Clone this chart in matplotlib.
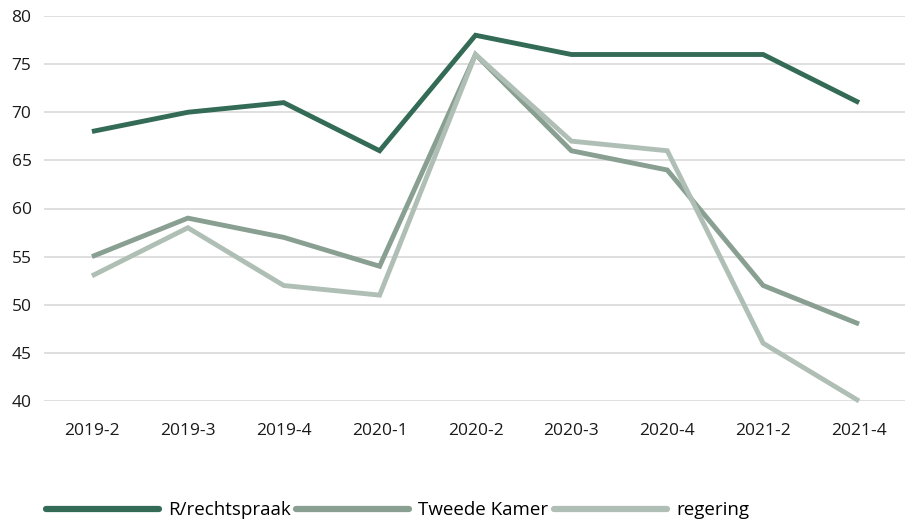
import matplotlib
matplotlib.use("Agg")
import matplotlib.pyplot as plt

categories = ["2019-2", "2019-3", "2019-4", "2020-1", "2020-2", "2020-3", "2020-4", "2021-2", "2021-4"]
rechtspraak = [68, 70, 71, 66, 78, 76, 76, 76, 71]
tweede_kamer = [55, 59, 57, 54, 76, 66, 64, 52, 48]
regering = [53, 58, 52, 51, 76, 67, 66, 46, 40]
series_names = ["R/rechtspraak", "Tweede Kamer", "regering"]
colors = ["#336b57", "#889f92", "#b0bfb5"]

plt.rcParams['font.family'] = ['Open Sans', 'DejaVu Sans']

fig = plt.figure(figsize=(9.05, 5.19), dpi=100)
ax = fig.add_axes([44/905, 1-401/519, 863/905, 385/519])

x = list(range(len(categories)))
for vals, name, c in zip([rechtspraak, tweede_kamer, regering], series_names, colors):
    ax.plot(x, vals, color=c, lw=3.5, label=name, solid_joinstyle='miter', solid_capstyle='butt', clip_on=False)

ax.set_xlim(-0.5, len(categories) - 0.5)
ax.set_ylim(40, 80)
ax.set_yticks(range(40, 81, 5))
ax.set_xticks(x)
ax.set_xticklabels(categories)
ax.yaxis.grid(True, color="#d9d9d9", lw=1.2)
ax.set_axisbelow(True)
for s in ax.spines.values():
    s.set_visible(False)
ax.tick_params(axis='both', length=0, labelsize=12.5, colors="#1a1a1a")
ax.tick_params(axis='x', pad=16)
ax.tick_params(axis='y', pad=9)

leg = fig.legend(loc='lower left', bbox_to_anchor=(33/905, -0.026), ncol=3, frameon=False,
                 fontsize=13.5, handlelength=6.0, handletextpad=0.5, columnspacing=0.3,
                 borderaxespad=0.3)
for line in leg.get_lines():
    line.set_linewidth(4.5)
    line.set_solid_capstyle('round')

fig.savefig("out.png", dpi=100)
